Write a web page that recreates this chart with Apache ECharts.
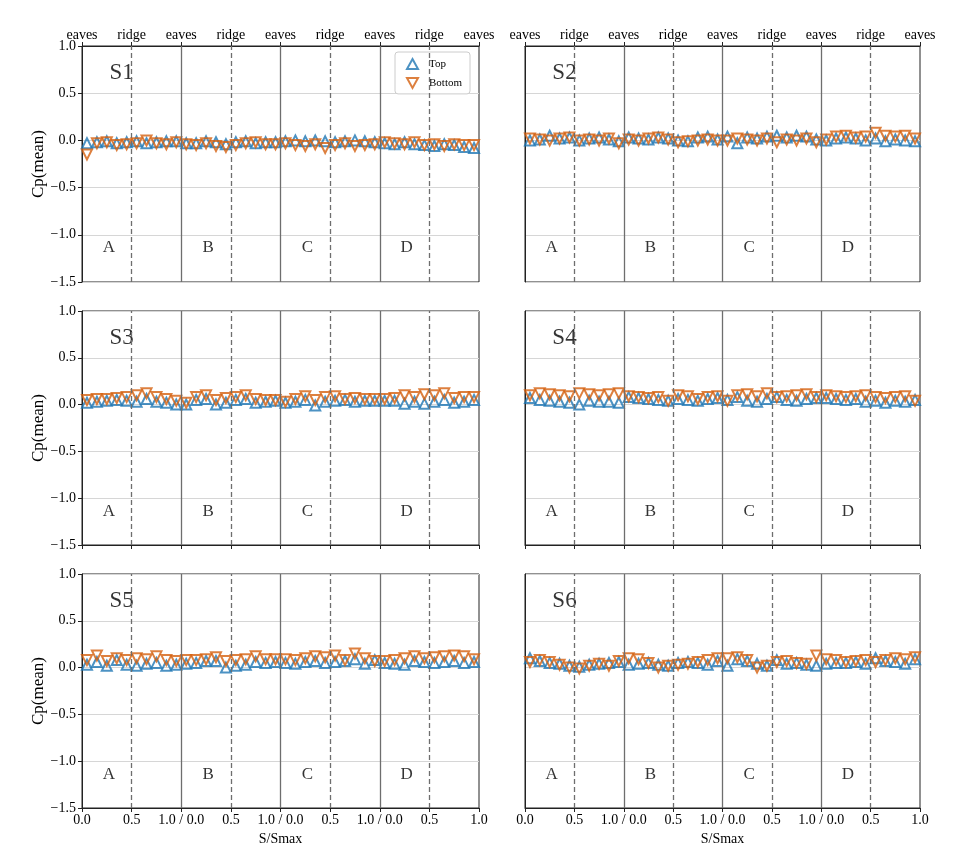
<!DOCTYPE html>
<html>
<head>
<meta charset="utf-8">
<script src="https://cdn.jsdelivr.net/npm/echarts@6/dist/echarts.min.js"></script>
<style>
  html, body { margin: 0; padding: 0; background: #fff; }
  #chart { width: 964px; height: 858px; }
</style>
</head>
<body>
<div id="chart"></div>
<script>
// sample positions along each roof segment (S/Smax)
const sPos = [0.05, 0.15, 0.25, 0.35, 0.45, 0.55, 0.65, 0.75, 0.85, 0.95];
const segments = ["A", "B", "C", "D"];
const panels = ["S1", "S2", "S3", "S4", "S5", "S6"];
const topTickLabels = ["eaves", "ridge", "eaves", "ridge", "eaves", "ridge", "eaves", "ridge", "eaves"];
const bottomTickLabels = ["0.0", "0.5", "1.0 / 0.0", "0.5", "1.0 / 0.0", "0.5", "1.0 / 0.0", "0.5", "1.0"];
const solidDividers = [1, 2, 3];
const dashedDividers = [0.5, 1.5, 2.5, 3.5];

// Cp(mean) per segment A..D, 10 points each
const s1Top = [
  [-0.03, -0.02, -0.01, -0.03, -0.02, -0.01, -0.03, -0.02, -0.01, -0.01],
  [-0.03, -0.03, -0.01, -0.02, -0.04, -0.02, -0.01, -0.03, -0.02, -0.02],
  [-0.01, 0.0, -0.01, 0.0, -0.01, -0.02, -0.01, 0.0, -0.01, -0.02],
  [-0.03, -0.04, -0.02, -0.04, -0.05, -0.06, -0.04, -0.05, -0.07, -0.08]
];
const s1Bottom = [
  [-0.15, -0.03, -0.02, -0.05, -0.04, -0.03, 0.0, -0.03, -0.04, -0.02],
  [-0.04, -0.05, -0.03, -0.06, -0.07, -0.05, -0.03, -0.02, -0.04, -0.04],
  [-0.03, -0.05, -0.06, -0.04, -0.08, -0.05, -0.03, -0.06, -0.05, -0.04],
  [-0.02, -0.03, -0.04, -0.02, -0.05, -0.04, -0.06, -0.04, -0.05, -0.05]
];
const s2Top = [
  [0.0, 0.01, 0.05, 0.02, 0.03, 0.0, 0.02, 0.03, 0.01, -0.01],
  [0.03, 0.02, 0.01, 0.03, 0.02, 0.0, -0.01, 0.03, 0.04, 0.01],
  [0.04, -0.03, 0.03, 0.02, 0.04, 0.05, 0.03, 0.05, 0.04, 0.01],
  [0.0, 0.02, 0.03, 0.02, 0.0, 0.02, -0.01, 0.01, 0.0, -0.01]
];
const s2Bottom = [
  [0.02, 0.01, 0.0, 0.02, 0.03, 0.0, 0.01, 0.0, 0.02, -0.03],
  [0.01, 0.0, 0.02, 0.03, 0.01, -0.02, -0.01, 0.0, 0.01, 0.0],
  [0.0, 0.02, 0.01, 0.0, 0.02, -0.02, 0.01, 0.0, 0.02, -0.02],
  [0.01, 0.04, 0.05, 0.03, 0.04, 0.08, 0.05, 0.04, 0.05, 0.02]
];
const s3Top = [
  [0.02, 0.03, 0.04, 0.05, 0.04, 0.03, 0.06, 0.03, 0.02, 0.0],
  [0.0, 0.05, 0.06, 0.0, 0.02, 0.05, 0.06, 0.02, 0.03, 0.04],
  [0.02, 0.03, 0.05, -0.01, 0.03, 0.04, 0.05, 0.03, 0.04, 0.04],
  [0.04, 0.04, 0.01, 0.03, 0.01, 0.03, 0.05, 0.02, 0.03, 0.05]
];
const s3Bottom = [
  [0.05, 0.06, 0.06, 0.07, 0.08, 0.1, 0.12, 0.08, 0.06, 0.04],
  [0.02, 0.08, 0.1, 0.05, 0.07, 0.08, 0.1, 0.06, 0.05, 0.05],
  [0.03, 0.06, 0.09, 0.05, 0.08, 0.09, 0.06, 0.07, 0.06, 0.06],
  [0.06, 0.07, 0.1, 0.08, 0.11, 0.1, 0.12, 0.07, 0.08, 0.08]
];
const s4Top = [
  [0.07, 0.05, 0.04, 0.03, 0.02, 0.0, 0.04, 0.03, 0.03, 0.02],
  [0.08, 0.07, 0.06, 0.05, 0.04, 0.06, 0.05, 0.04, 0.06, 0.07],
  [0.05, 0.08, 0.04, 0.03, 0.06, 0.08, 0.05, 0.04, 0.06, 0.07],
  [0.07, 0.06, 0.05, 0.06, 0.03, 0.04, 0.02, 0.04, 0.03, 0.05]
];
const s4Bottom = [
  [0.1, 0.12, 0.11, 0.1, 0.09, 0.12, 0.11, 0.1, 0.11, 0.12],
  [0.09, 0.08, 0.07, 0.08, 0.04, 0.1, 0.09, 0.06, 0.08, 0.09],
  [0.04, 0.1, 0.11, 0.09, 0.12, 0.08, 0.09, 0.1, 0.11, 0.08],
  [0.1, 0.09, 0.08, 0.09, 0.1, 0.08, 0.07, 0.08, 0.09, 0.04]
];
const s5Top = [
  [0.03, 0.06, 0.02, 0.08, 0.03, 0.02, 0.04, 0.05, 0.02, 0.03],
  [0.04, 0.05, 0.07, 0.07, 0.0, 0.02, 0.03, 0.06, 0.05, 0.06],
  [0.05, 0.04, 0.06, 0.07, 0.05, 0.06, 0.07, 0.09, 0.04, 0.08],
  [0.05, 0.04, 0.03, 0.07, 0.06, 0.05, 0.06, 0.07, 0.05, 0.06]
];
const s5Bottom = [
  [0.08, 0.13, 0.07, 0.1, 0.08, 0.1, 0.09, 0.12, 0.08, 0.07],
  [0.08, 0.08, 0.09, 0.11, 0.07, 0.08, 0.09, 0.12, 0.09, 0.09],
  [0.09, 0.08, 0.1, 0.12, 0.11, 0.13, 0.08, 0.15, 0.1, 0.07],
  [0.07, 0.08, 0.1, 0.12, 0.1, 0.11, 0.12, 0.13, 0.12, 0.09]
];
const s6Top = [
  [0.1, 0.07, 0.05, 0.04, 0.02, 0.01, 0.03, 0.04, 0.05, 0.06],
  [0.03, 0.04, 0.05, 0.03, 0.02, 0.05, 0.06, 0.05, 0.03, 0.07],
  [0.02, 0.09, 0.07, 0.04, 0.02, 0.08, 0.04, 0.05, 0.03, 0.02],
  [0.04, 0.05, 0.05, 0.06, 0.04, 0.1, 0.07, 0.06, 0.04, 0.09]
];
const s6Bottom = [
  [0.06, 0.08, 0.06, 0.03, 0.0, -0.01, 0.02, 0.04, 0.02, 0.07],
  [0.1, 0.09, 0.05, 0.0, 0.02, 0.03, 0.04, 0.06, 0.08, 0.1],
  [0.1, 0.11, 0.08, 0.0, 0.02, 0.06, 0.07, 0.05, 0.04, 0.13],
  [0.09, 0.08, 0.06, 0.07, 0.08, 0.06, 0.08, 0.1, 0.09, 0.11]
];
const topSeries = [s1Top, s2Top, s3Top, s4Top, s5Top, s6Top];
const bottomSeries = [s1Bottom, s2Bottom, s3Bottom, s4Bottom, s5Bottom, s6Bottom];

const BLUE = "#1f77b4";
const ORANGE = "#d5600f";
const FONT = "Liberation Serif";
const DOWN_TRI = "path://M0,0L10,0L5,9Z";

const chart = echarts.init(document.getElementById("chart"));

const colLeft = [82, 525];
const colWidth = [397, 395];
const rowTop = [46, 311, 574];
const rowHeight = [236, 234, 234];

const grids = [], xAxes = [], yAxes = [], series = [];

function flatten(segVals) {
  const pts = [];
  segVals.forEach((vals, k) => {
    vals.forEach((v, i) => pts.push([k + sPos[i], v]));
  });
  return pts;
}

panels.forEach((name, idx) => {
  const row = Math.floor(idx / 2);
  const col = idx % 2;
  grids.push({
    left: colLeft[col], top: rowTop[row], width: colWidth[col], height: rowHeight[row],
    show: true, borderColor: "#222", borderWidth: 1, backgroundColor: "#fff"
  });
  xAxes.push({
    gridIndex: idx, type: "value", min: 0, max: 4, interval: 0.5,
    position: row === 0 ? "top" : "bottom",
    axisLine: { show: true, onZero: false, lineStyle: { color: "#222" } },
    axisTick: { show: true, length: 4, lineStyle: { color: "#222" } },
    splitLine: { show: false },
    axisLabel: {
      show: row !== 1,
      margin: row === 0 ? 4 : 5,
      color: "#000", fontFamily: FONT, fontSize: 14,
      formatter: (v) => {
        const i = Math.round(v / 0.5);
        return row === 0 ? topTickLabels[i] : bottomTickLabels[i];
      }
    },
    name: row === 2 ? "S/Smax" : "",
    nameLocation: "middle", nameGap: 24,
    nameTextStyle: { color: "#000", fontFamily: FONT, fontSize: 14 }
  });
  yAxes.push({
    gridIndex: idx, type: "value", min: -1.5, max: 1.0, interval: 0.5,
    axisLine: { show: true, lineStyle: { color: "#222" } },
    axisTick: { show: col === 0, length: 4, lineStyle: { color: "#222" } },
    splitLine: { show: true, lineStyle: { color: "#d6d6d6", width: 1 } },
    axisLabel: {
      show: col === 0, margin: 6, color: "#000", fontFamily: FONT, fontSize: 14,
      formatter: (v) => v.toFixed(1).replace("-", "\u2212")
    },
    name: col === 0 ? "Cp(mean)" : "",
    nameLocation: "middle", nameGap: 29,
    nameTextStyle: { color: "#000", fontFamily: FONT, fontSize: 17 }
  });

  const dividerLines = solidDividers.map((x) => ({
    xAxis: x, lineStyle: { color: "#6e6e6e", type: "solid", width: 1.3 }
  })).concat(dashedDividers.map((x) => ({
    xAxis: x, lineStyle: { color: "#6e6e6e", type: [5, 3], width: 1.3 }
  })));

  series.push({
    type: "line", xAxisIndex: idx, yAxisIndex: idx, data: [], silent: true,
    markLine: { symbol: "none", silent: true, label: { show: false }, animation: false, data: dividerLines }
  });
  series.push({
    name: "Top", type: "scatter", xAxisIndex: idx, yAxisIndex: idx,
    symbol: "triangle", symbolSize: [10, 10],
    itemStyle: { color: "rgba(255,255,255,0)", borderColor: BLUE, borderWidth: 2 },
    data: flatten(topSeries[idx]), z: 3
  });
  series.push({
    name: "Bottom", type: "scatter", xAxisIndex: idx, yAxisIndex: idx,
    symbol: DOWN_TRI, symbolSize: [10, 10],
    itemStyle: { color: "rgba(255,255,255,0)", borderColor: ORANGE, borderWidth: 2 },
    data: flatten(bottomSeries[idx]), z: 4
  });
  // panel and segment labels
  series.push({
    type: "scatter", xAxisIndex: idx, yAxisIndex: idx, symbolSize: 0, silent: true,
    label: {
      show: true, position: "inside", color: "#000", fontFamily: FONT,
      formatter: (p) => p.name
    },
    data: segments.map((s, k) => ({ name: s, value: [k + 0.27, -1.14], label: { fontSize: 17 } }))
      .concat([{ name: name, value: [0.4, 0.71], label: { fontSize: 23 } }])
  });
});

chart.setOption({
  animation: false,
  backgroundColor: "#fff",
  grid: grids,
  xAxis: xAxes,
  yAxis: yAxes,
  legend: {
    left: 395, top: 52, orient: "vertical",
    data: [{ name: "Top", icon: "triangle" }, { name: "Bottom", icon: DOWN_TRI }],
    itemWidth: 11, itemHeight: 10, itemGap: 7,
    padding: [6, 8, 5, 11],
    borderColor: "#ccc", borderWidth: 1, borderRadius: 3,
    backgroundColor: "#fff",
    textStyle: { fontFamily: FONT, fontSize: 11, color: "#000", padding: [0, 0, 0, 6] }
  },
  series: series
});
</script>
</body>
</html>
